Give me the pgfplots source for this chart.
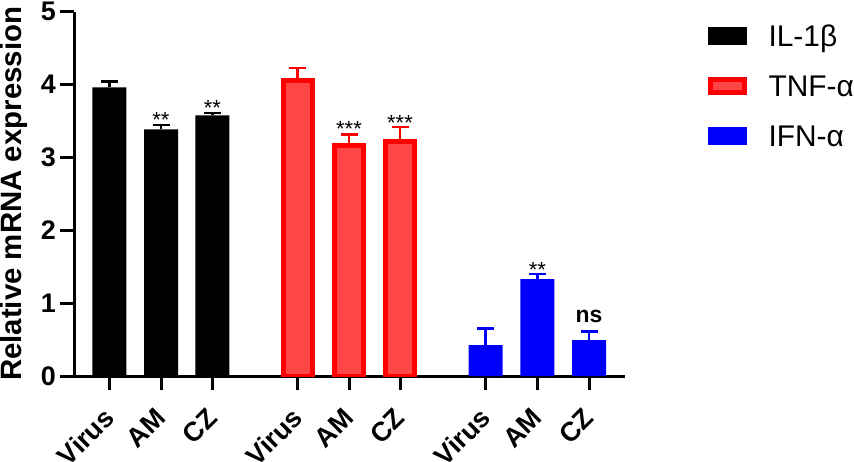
\documentclass[border=0pt]{standalone}
\usepackage{fontspec}
\setmainfont{Liberation Sans}
\usepackage{pgfplots}
\pgfplotsset{compat=1.18}
\definecolor{redfill}{RGB}{255,70,70}
\definecolor{redline}{RGB}{255,0,0}
\definecolor{myblue}{RGB}{0,0,250}
\begin{document}
\begin{tikzpicture}
\begin{axis}[
  at={(0,0)}, anchor=south west,
  scale only axis, width=550.5bp, height=364.3bp,
  xmin=74.5, xmax=625, ymin=0, ymax=5,
  axis x line*=bottom, axis y line*=left,
  axis line style={line width=3bp, black},
  ytick={0,1,2,3,4,5},
  xtick={109.3,161,212.3,297.7,349,400,485.7,537.3,589},
  xticklabels={Virus,AM,CZ,Virus,AM,CZ,Virus,AM,CZ},
  tick align=outside, major tick length=14bp,
  every tick/.style={line width=3bp, black},
  minor tick num=0,
  /pgf/number format/assume math mode=true,
  y tick label style={font=\fontsize{27}{32}\selectfont\bfseries, inner sep=0pt, xshift=-4.5bp},
  x tick label style={font=\fontsize{27}{32}\selectfont\bfseries, yshift=-23bp, rotate=45, anchor=east, inner sep=0pt},
  ylabel={Relative mRNA expression},
  ylabel style={font=\fontsize{29.5}{34}\selectfont\bfseries, at={(axis description cs:-0.1099,0.5)}, anchor=center},
  legend cell align=left,
  legend style={draw=none, fill=none, inner sep=0pt, at={(axis description cs:1.1495,0.9642)}, anchor=north west, row sep=28.5bp, column sep=22bp, nodes={inner sep=0pt, text height=21.5bp, text depth=0bp, font=\fontsize{30}{36}\selectfont, anchor=west}},
]
\addplot[ybar, bar width=34bp, bar shift=0pt, fill=black, draw=none,
  legend image code/.code={\fill[black] (0bp,-9bp) rectangle (39bp,9bp);},
  error bars/.cd, y dir=plus, y explicit,
  error bar style={line width=2.5bp, black},
  error mark options={rotate=90, mark size=8.5bp, line width=2.5bp, black}]
  coordinates {(109.3,3.962) +- (0,0.077) (161,3.386) +- (0,0.059) (212.3,3.578) +- (0,0.032)};
\addlegendentry{IL-1β}
\addplot[ybar, bar width=29bp, bar shift=0pt, fill=redfill, draw=redline, line width=5bp,
  legend image code/.code={\draw[redline, fill=redfill, line width=5bp] (2.5bp,-6.5bp) rectangle (36.5bp,6.5bp);},
  error bars/.cd, y dir=plus, y explicit,
  error bar style={line width=2.5bp, redline},
  error mark options={rotate=90, mark size=8.5bp, line width=2.5bp, redline}]
  coordinates {(297.7,4.06) +- (0,0.167) (349,3.16) +- (0,0.157) (400,3.223) +- (0,0.195)};
\addlegendentry{TNF-α}
\addplot[ybar, bar width=34bp, bar shift=0pt, fill=myblue, draw=none,
  legend image code/.code={\fill[myblue] (0bp,-9bp) rectangle (39bp,9bp);},
  error bars/.cd, y dir=plus, y explicit,
  error bar style={line width=2.5bp, myblue},
  error mark options={rotate=90, mark size=8.5bp, line width=2.5bp, myblue}]
  coordinates {(485.7,0.425) +- (0,0.224) (537.3,1.331) +- (0,0.069) (589,0.494) +- (0,0.114)};
\addlegendentry{IFN-α}
\node[font=\fontsize{22}{26}\selectfont, anchor=base] at (axis cs:161,3.405) {**};
\node[font=\fontsize{22}{26}\selectfont, anchor=base] at (axis cs:212.3,3.58) {**};
\node[font=\fontsize{22}{26}\selectfont, anchor=base] at (axis cs:349,3.29) {***};
\node[font=\fontsize{22}{26}\selectfont, anchor=base] at (axis cs:400,3.374) {***};
\node[font=\fontsize{22}{26}\selectfont, anchor=base] at (axis cs:537.3,1.346) {**};
\node[font=\fontsize{23}{27}\selectfont\bfseries, anchor=base] at (axis cs:589,0.741) {ns};
\end{axis}
\pgfresetboundingbox
\path[use as bounding box] (-74.5bp,-86bp) rectangle (779.5bp,376bp);
\end{tikzpicture}
\end{document}
